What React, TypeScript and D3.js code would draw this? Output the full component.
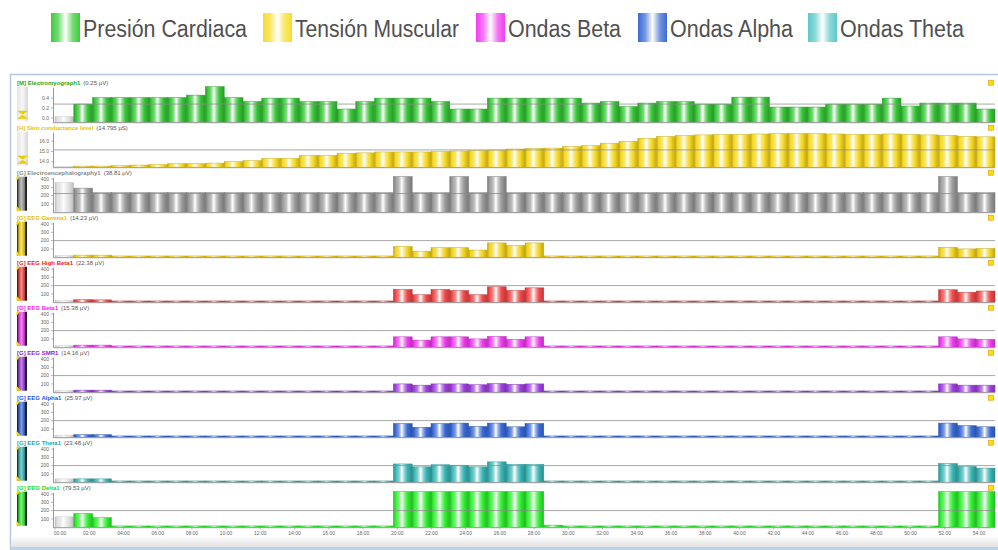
import React from 'react';
import * as d3 from 'd3';

// ---------- DATA ----------
const legendLabels = ['Presión Cardiaca', 'Tensión Muscular', 'Ondas Beta', 'Ondas Alpha', 'Ondas Theta'];
const legendColors = ['#3ccc3c', '#f7dc2a', '#f23cf2', '#3a6ad2', '#5cc8c8'];

const panelTitles = [
  '[M] Electromyograph1',
  '[H] Skin conductance level',
  '[G] Electroencephalography1',
  '[G] EEG Gamma1',
  '[G] EEG High Beta1',
  '[G] EEG Beta1',
  '[G] EEG SMR1',
  '[G] EEG Alpha1',
  '[G] EEG Theta1',
  '[G] EEG Delta1',
];
const panelReadouts = ['(0.25 µV)', '(14.795 µS)', '(38.81 µV)', '(14.23 µV)', '(22.38 µV)', '(15.38 µV)', '(14.16 µV)', '(25.97 µV)', '(23.48 µV)', '(79.53 µV)'];
const panelColors = ['#36c436', '#f6d820', '#9a9a9a', '#f2d21c', '#f04848', '#ee3cee', '#a040e0', '#3a6ad6', '#38b4b4', '#30ee30'];
const labelColors = ['#22aa22', '#e6c400', '#8a8a8a', '#e8c000', '#ee2020', '#ee22ee', '#9020d0', '#2255dd', '#20a8a8', '#22dd22'];

const timeTicks = [0, 2, 4, 6, 8, 10, 12, 14, 16, 18, 20, 22, 24, 26, 28, 30, 32, 34, 36, 38, 40, 42, 44, 46, 48, 50, 52, 54];

const emgTicks = [0.0, 0.2, 0.4];
const sclTicks = [14, 15, 16];
const eegTicks = [100, 200, 300, 400];

const emgValues = [
  0.03, 0.28, 0.41, 0.41, 0.41, 0.41, 0.41, 0.46, 0.63, 0.41,
  0.33, 0.40, 0.40, 0.33, 0.33, 0.18, 0.33, 0.40, 0.40, 0.40,
  0.33, 0.18, 0.18, 0.40, 0.40, 0.40, 0.40, 0.40, 0.30, 0.33,
  0.23, 0.30, 0.33, 0.33, 0.28, 0.28, 0.42, 0.42, 0.22, 0.22,
  0.22, 0.28, 0.28, 0.28, 0.40, 0.24, 0.30, 0.30, 0.30, 0.18,
];
const sclValues = [
  13.52, 13.57, 13.57, 13.62, 13.67, 13.71, 13.81, 13.81, 13.86, 14.0,
  14.10, 14.33, 14.33, 14.62, 14.62, 14.81, 14.86, 14.95, 14.95, 14.95,
  15.0, 15.05, 15.10, 15.14, 15.24, 15.29, 15.33, 15.48, 15.57, 15.81,
  16.0, 16.29, 16.48, 16.57, 16.62, 16.67, 16.67, 16.71, 16.76, 16.76,
  16.76, 16.71, 16.67, 16.67, 16.71, 16.67, 16.62, 16.57, 16.48, 16.43,
];
const eegRawValues = [
  360, 290, 235, 235, 235, 235, 235, 235, 235, 235,
  235, 235, 235, 235, 235, 235, 235, 235, 430, 235,
  235, 430, 235, 430, 235, 235, 235, 235, 235, 235,
  235, 235, 235, 235, 235, 235, 235, 235, 235, 235,
  235, 235, 235, 235, 235, 235, 235, 430, 235, 235,
];
const gammaValues = [
  20, 25, 25, 15, 15, 15, 15, 15, 15, 15,
  15, 15, 15, 15, 15, 15, 15, 15, 128, 73,
  115, 115, 86, 172, 141, 172, 15, 15, 15, 15,
  15, 15, 15, 15, 15, 15, 15, 15, 15, 15,
  15, 15, 15, 15, 15, 15, 15, 120, 100, 105,
];
const highBetaValues = [
  25, 30, 28, 15, 15, 15, 15, 15, 15, 15,
  15, 15, 15, 15, 15, 15, 15, 15, 154, 90,
  154, 141, 90, 186, 141, 173, 15, 15, 15, 15,
  15, 15, 15, 15, 15, 15, 15, 15, 15, 15,
  15, 15, 15, 15, 15, 15, 15, 150, 120, 135,
];
const betaValues = [
  20, 25, 25, 15, 15, 15, 15, 15, 15, 15,
  15, 15, 15, 15, 15, 15, 15, 15, 125, 85,
  125, 125, 100, 130, 95, 125, 15, 15, 15, 15,
  15, 15, 15, 15, 15, 15, 15, 15, 15, 15,
  15, 15, 15, 15, 15, 15, 15, 125, 100, 95,
];
const smrValues = [
  20, 25, 25, 15, 15, 15, 15, 15, 15, 15,
  15, 15, 15, 15, 15, 15, 15, 15, 100, 85,
  100, 100, 90, 105, 95, 100, 15, 15, 15, 15,
  15, 15, 15, 15, 15, 15, 15, 15, 15, 15,
  15, 15, 15, 15, 15, 15, 15, 100, 85, 85,
];
const alphaValues = [
  25, 30, 30, 15, 15, 15, 15, 15, 15, 15,
  15, 15, 15, 15, 15, 15, 15, 15, 165, 120,
  165, 170, 130, 170, 125, 165, 15, 15, 15, 15,
  15, 15, 15, 15, 15, 15, 15, 15, 15, 15,
  15, 15, 15, 15, 15, 15, 15, 170, 140, 125,
];
const thetaValues = [
  40, 40, 40, 15, 15, 15, 15, 15, 15, 15,
  15, 15, 15, 15, 15, 15, 15, 15, 220, 185,
  210, 205, 185, 245, 215, 215, 15, 15, 15, 15,
  15, 15, 15, 15, 15, 15, 15, 15, 15, 15,
  15, 15, 15, 15, 15, 15, 15, 225, 190, 170,
];
const deltaValues = [
  125, 165, 115, 15, 15, 15, 15, 15, 15, 15,
  15, 15, 15, 15, 15, 15, 15, 15, 430, 430,
  430, 430, 430, 430, 430, 430, 25, 15, 15, 15,
  15, 15, 15, 15, 15, 15, 15, 15, 15, 15,
  15, 15, 15, 15, 15, 15, 15, 430, 430, 430,
];

const thresholds = [0.28, 15.15, 225, 200, 200, 200, 200, 200, 200, 200];

// ---------- LAYOUT ----------
const W = 998;
const H = 550;
const PANEL0 = 82.7;
const PITCH = 45;
const PLOT_LEFT = 55;
const PLOT_RIGHT = 995;

function mix(a: string, b: string, t: number) {
  return d3.interpolateRgb(a, b)(t);
}

export default function App() {
  const seriesList = [emgValues, sclValues, eegRawValues, gammaValues, highBetaValues, betaValues, smrValues, alphaValues, thetaValues, deltaValues];
  const domains: [number, number][] = [
    [-0.085, 0.65],
    [13.46, 17.03],
    [0, 440], [0, 440], [0, 440], [0, 440], [0, 440], [0, 440], [0, 440], [0, 440],
  ];
  const tickSets = [emgTicks, sclTicks, eegTicks, eegTicks, eegTicks, eegTicks, eegTicks, eegTicks, eegTicks, eegTicks];
  const tickFmt = [d3.format('.1f'), d3.format('.1f'), d3.format('d'), d3.format('d'), d3.format('d'), d3.format('d'), d3.format('d'), d3.format('d'), d3.format('d'), d3.format('d')];

  const x = d3.scaleBand<number>().domain(d3.range(emgValues.length)).range([PLOT_LEFT, PLOT_RIGHT]).paddingInner(0).paddingOuter(0);
  const tx = d3.scaleLinear().domain([0, 54]).range([PLOT_LEFT, 979]);

  const barGrad = (id: string, c: string) => {
    const dark = d3.rgb(c).darker(0.7).formatHex();
    return (
      <linearGradient id={id} key={id} x1="0" x2="1" y1="0" y2="0">
        <stop offset="0" stopColor={dark} />
        <stop offset="0.1" stopColor={c} />
        <stop offset="0.3" stopColor={mix(c, '#fff', 0.35)} />
        <stop offset="0.45" stopColor="#ffffff" />
        <stop offset="0.58" stopColor={mix(c, '#fff', 0.45)} />
        <stop offset="0.75" stopColor={c} />
        <stop offset="1" stopColor={dark} />
      </linearGradient>
    );
  };
  const meterGrad = (id: string, c: string) => (
    <linearGradient id={id} key={id} x1="0" x2="1" y1="0" y2="0">
      <stop offset="0" stopColor="#111" />
      <stop offset="0.2" stopColor={d3.rgb(c).darker(0.3).formatHex()} />
      <stop offset="0.45" stopColor={mix(c, '#fff', 0.35)} />
      <stop offset="0.75" stopColor={d3.rgb(c).darker(0.6).formatHex()} />
      <stop offset="0.88" stopColor="#111" />
      <stop offset="1" stopColor="#333" />
    </linearGradient>
  );
  const legendGrad = (id: string, c: string) => (
    <linearGradient id={id} key={id} x1="0" x2="1" y1="0" y2="0">
      <stop offset="0" stopColor={c} />
      <stop offset="0.25" stopColor={mix(c, '#fff', 0.3)} />
      <stop offset="0.5" stopColor="#ffffff" />
      <stop offset="0.75" stopColor={mix(c, '#fff', 0.3)} />
      <stop offset="1" stopColor={c} />
    </linearGradient>
  );

  const legendSwatchX = [51, 263, 476, 638, 808];
  const legendTextW = [164, 164, 113, 123, 124];

  return (
    <div style={{ position: 'fixed', left: 0, top: 0 }}>
      <svg width={W} height={H} style={{ display: 'block', background: '#fff' }} fontFamily="'Liberation Sans', Arial, sans-serif">
        <defs>
          {panelColors.map((c, i) => barGrad(`bar${i}`, c))}
          {panelColors.map((c, i) => meterGrad(`meter${i}`, c))}
          {legendColors.map((c, i) => legendGrad(`leg${i}`, c))}
          {barGrad('barGrey', '#d8d8d8')}
          <linearGradient id="greyMeter" x1="0" x2="1" y1="0" y2="0">
            <stop offset="0" stopColor="#e4e4e4" />
            <stop offset="0.5" stopColor="#f6f6f6" />
            <stop offset="1" stopColor="#d6d6d6" />
          </linearGradient>
          <linearGradient id="bottomStrip" x1="0" x2="0" y1="0" y2="1">
            <stop offset="0" stopColor="#ffffff" />
            <stop offset="1" stopColor="#e2e2e2" />
          </linearGradient>
        </defs>

        {/* Legend */}
        {legendLabels.map((lab, i) => (
          <g key={lab}>
            <rect x={legendSwatchX[i]} y={13} width={29} height={29} fill={`url(#leg${i})`} />
            <text x={legendSwatchX[i] + 32} y={37} fontSize={23} fill="#505050" textLength={legendTextW[i]} lengthAdjust="spacingAndGlyphs">{lab}</text>
          </g>
        ))}

        {/* Window frame */}
        <rect x={10} y={74} width={W - 10} height={H - 74} fill="#fff" />
        <line x1={10} x2={W} y1={74.5} y2={74.5} stroke="#b4c8e0" strokeWidth={1.5} />
        <line x1={10.5} x2={10.5} y1={74} y2={H} stroke="#b4c8e0" strokeWidth={1.5} />
        <rect x={11} y={536} width={W - 11} height={11} fill="url(#bottomStrip)" />
        <rect x={11} y={547} width={W - 11} height={3} fill="#bcd2ea" />

        {seriesList.map((vals, p) => {
          const L = PANEL0 + p * PITCH;
          const bottom = L + 39.5;
          const top = L + 3;
          const y = d3.scaleLinear().domain(domains[p]).range([bottom, top]);
          const base = y(domains[p][0]);
          const fmt = tickFmt[p];
          return (
            <g key={p}>
              {/* left meter */}
              {p < 2 ? (
                <g>
                  <rect x={17} y={L + 4} width={11} height={34} fill="url(#greyMeter)" />
                  <path d={`M17,${L + 28} L28,${L + 28} L22.5,${L + 32} Z`} fill="#e8d000" />
                  <path d={`M17,${L + 36} L28,${L + 36} L22.5,${L + 32} Z`} fill="#e8d000" />
                </g>
              ) : (
                <g>
                  <rect x={17} y={L + 4} width={10} height={34} fill={`url(#meter${p})`} />
                  <path d={`M16.5,${L + 38} L16.5,${L + 33} L21,${L + 38} Z`} fill="#f0d800" />
                  <path d={`M16.5,${L + 4} L16.5,${L + 8} L20,${L + 4} Z`} fill="#f0d800" />
                </g>
              )}

              {/* title */}
              <text x={17} y={L + 2} fontSize={6}>
                <tspan fill={labelColors[p]} fontWeight="bold">{panelTitles[p]}</tspan>
                <tspan fill="#555" dx={3}>{panelReadouts[p]}</tspan>
              </text>

              {/* bars */}
              {vals.map((v, i) => {
                const yy = y(v);
                const h = Math.max(0, base - yy);
                return (
                  <rect
                    key={i}
                    x={x(i)!}
                    y={yy}
                    width={x.bandwidth()}
                    height={h}
                    fill={i === 0 ? 'url(#barGrey)' : `url(#bar${p})`}
                    stroke={i === 0 ? '#c4c4c4' : d3.rgb(panelColors[p]).darker(0.6).formatHex()}
                    strokeWidth={0.5}
                    opacity={i === 0 ? 0.8 : 1}
                  />
                );
              })}

              {/* threshold line */}
              <line x1={PLOT_LEFT - 2} x2={PLOT_RIGHT} y1={y(thresholds[p])} y2={y(thresholds[p])} stroke="#8a8a8a" strokeOpacity={0.75} strokeWidth={1} />

              {/* axes */}
              <line x1={PLOT_LEFT - 2} x2={PLOT_RIGHT} y1={bottom + 0.5} y2={bottom + 0.5} stroke="#9a9a9a" strokeWidth={1} />
              <line x1={PLOT_LEFT - 1.5} x2={PLOT_LEFT - 1.5} y1={top + 2} y2={bottom} stroke="#9a9a9a" strokeWidth={1} />
              {tickSets[p].map((tv) => (
                <g key={tv}>
                  <line x1={PLOT_LEFT - 4} x2={PLOT_LEFT - 1.5} y1={y(tv)} y2={y(tv)} stroke="#9a9a9a" strokeWidth={0.7} />
                  <text x={PLOT_LEFT - 6} y={y(tv) + 1.8} fontSize={5} fill="#666" textAnchor="end">{fmt(tv)}</text>
                </g>
              ))}

              {/* right marker */}
              <rect x={988.5} y={L - 2.5} width={5} height={5} fill="#ffe000" stroke="#e89000" strokeWidth={0.6} />
            </g>
          );
        })}

        {/* time axis */}
        {timeTicks.map((tv) => {
          const xx = tx(tv);
          const bottom = PANEL0 + 9 * PITCH + 39.5;
          return (
            <g key={tv}>
              <line x1={xx} x2={xx} y1={bottom} y2={bottom + 2.5} stroke="#999" strokeWidth={0.6} />
              <text x={tv === 0 ? xx + 5 : xx} y={bottom + 7.5} fontSize={5} fill="#666" textAnchor="middle">{`${d3.format('02d')(tv)}:00`}</text>
            </g>
          );
        })}
      </svg>
    </div>
  );
}
